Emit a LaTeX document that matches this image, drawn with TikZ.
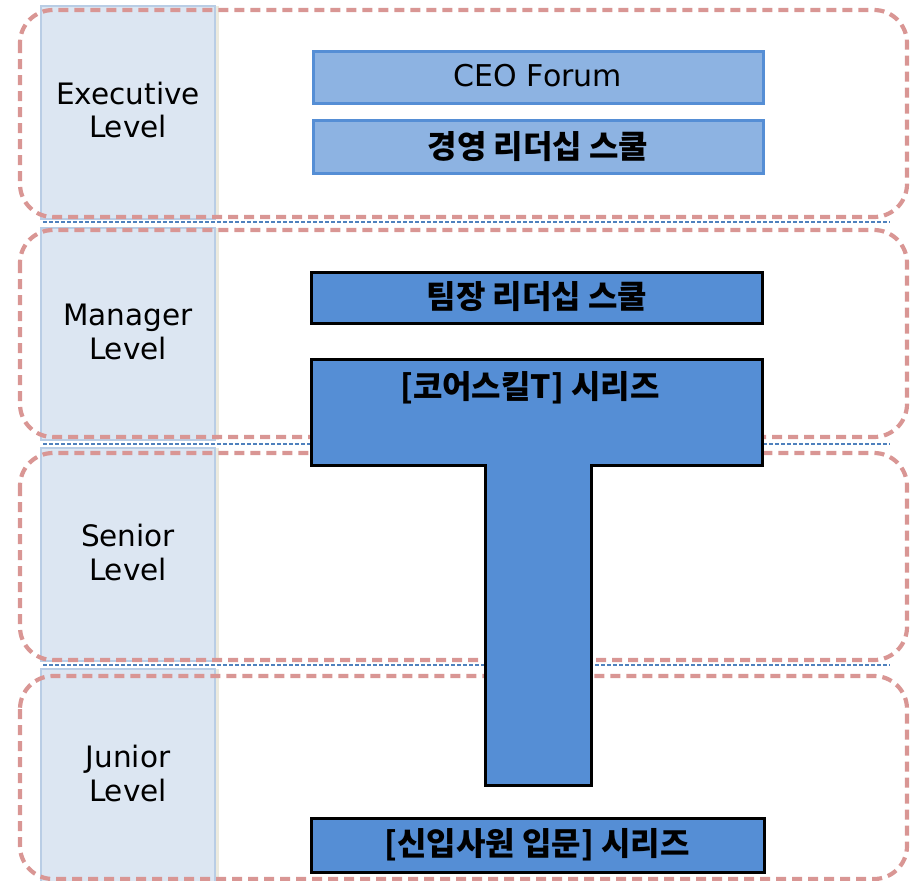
\documentclass[tikz,border=0pt]{standalone}
\usepackage{fontspec}
\setmainfont{DejaVu Sans}
\newfontfamily\kr{Noto Sans CJK KR}
\definecolor{colfill}{RGB}{220,230,242}
\definecolor{coldraw}{RGB}{185,205,229}
\definecolor{colshadow}{RGB}{236,234,222}
\definecolor{reddash}{RGB}{217,150,148}
\definecolor{bluesep}{RGB}{79,129,189}
\definecolor{lightbox}{RGB}{141,179,226}
\definecolor{lightedge}{RGB}{85,142,213}
\definecolor{darkbox}{RGB}{85,142,213}
\tikzset{
  levelcol/.style={fill=colfill, draw=coldraw, line width=1.2pt},
  levelframe/.style={draw=reddash, line width=4.2pt, dash pattern=on 10pt off 6pt, rounded corners=33pt},
  sepline/.style={draw=bluesep, line width=1.8pt, dash pattern=on 4pt off 2pt},
  leveltext/.style={align=center, font=\fontsize{29.5}{34}\selectfont, text=black},
  execbox/.style={fill=lightbox, draw=lightedge, line width=3pt},
  mainbox/.style={fill=darkbox, draw=black, line width=3pt},
  boxtext/.style={font=\kr\bfseries\fontsize{32}{36}\selectfont, text=black, inner sep=0pt},
}
\begin{document}
\begin{tikzpicture}[x=1pt,y=-1pt]
\useasboundingbox (0,0) rectangle (914,881);
% label column
\foreach \a/\b in {6/219, 228/440, 448/661, 669/883}{
  \fill[colshadow] (215,\a) rectangle (218.5,\b);
  \draw[levelcol] (41,\a) rectangle (215,\b);
}
% red dashed frames
\draw[levelframe] (20,10) rectangle (907,217);
\draw[levelframe] (20,230) rectangle (907,437);
\draw[levelframe] (20,453) rectangle (907,660);
\draw[levelframe] (20,676) rectangle (907,879);
% blue separators
\coordinate (s1a) at (43,222); \coordinate (s1b) at (890,222);
\coordinate (s2a) at (43,444); \coordinate (s2b) at (890,444);
\coordinate (s3a) at (43,665); \coordinate (s3b) at (890,665);
\draw[sepline] (s1a) -- (s1b);
\draw[sepline] (s2a) -- (s2b);
\draw[sepline] (s3a) -- (s3b);
% level labels
\node[leveltext] (exec) at (128,110) {Executive\\Level};
\node[leveltext] (mgr) at (128,332) {Manager\\Level};
\node[leveltext] (sen) at (128,552) {Senior\\Level};
\node[leveltext] (jun) at (128,773) {Junior\\Level};
% executive boxes
\draw[execbox] (313,51) rectangle (763,103);
\node[font=\fontsize{30}{32}\selectfont, inner sep=0pt] (ceo) at (538,76) {CEO Forum};
\draw[execbox] (313,120) rectangle (763,173);
\node[boxtext] (mgmt) at (538,147) {경영 리더십 스쿨};
% manager box
\draw[mainbox] (311,272) rectangle (762,323);
\node[boxtext] (team) at (537,297) {팀장 리더십 스쿨};
% T shape
\draw[mainbox] (311,359) -- (762,359) -- (762,465) -- (591,465) -- (591,785) -- (485,785) -- (485,465) -- (311,465) -- cycle;
\node[boxtext] (core) at (530,388) {[코어스킬T] 시리즈};
% junior box
\draw[mainbox] (311,818) rectangle (764,872);
\node[boxtext] (newhire) at (537,845) {[신입사원 입문] 시리즈};
\end{tikzpicture}
\end{document}
